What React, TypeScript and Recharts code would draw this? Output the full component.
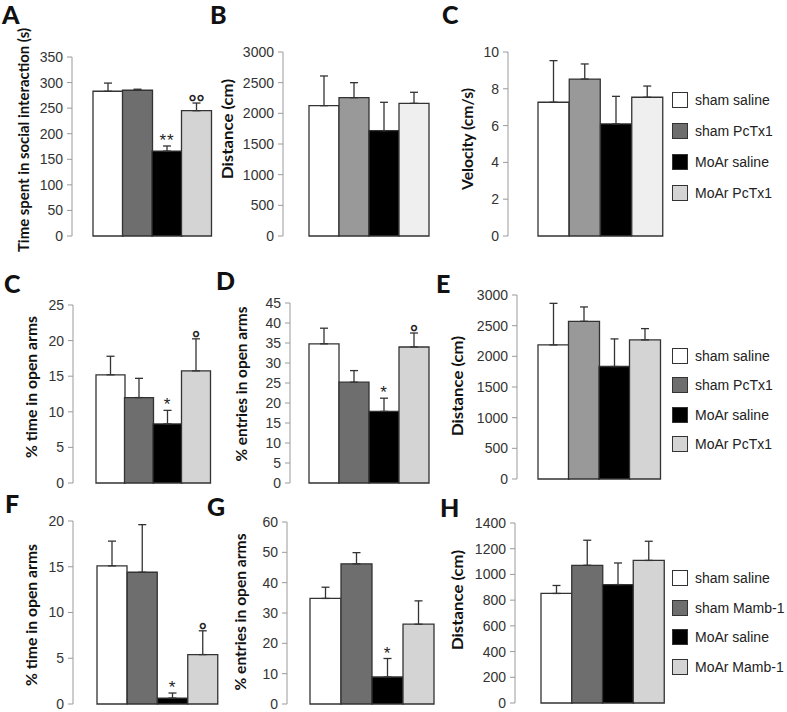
import React from 'react';
import { BarChart, Bar, XAxis, YAxis, ErrorBar, Cell, LabelList, Legend } from 'recharts';

const PCTX_GROUPS = ['sham saline', 'sham PcTx1', 'MoAr saline', 'MoAr PcTx1'];
const MAMB_GROUPS = ['sham saline', 'sham Mamb-1', 'MoAr saline', 'MoAr Mamb-1'];

// A: social interaction
const socialMeans = [283, 285, 166, 245];
const socialErrs = [16, 2, 10, 15];
const socialMarks = ['', '', '**', '°°'];
const socialTicks = [0, 50, 100, 150, 200, 250, 300, 350];

// B: distance during social test
const socialDistMeans = [2125, 2255, 1717, 2163];
const socialDistErrs = [484, 245, 463, 180];
const distTicks = [0, 500, 1000, 1500, 2000, 2500, 3000];

// C: velocity
const velocityMeans = [7.27, 8.53, 6.09, 7.54];
const velocityErrs = [2.26, 0.82, 1.5, 0.61];
const velocityTicks = [0, 2, 4, 6, 8, 10];

// C (second row): EPM time, PcTx1
const epmTimeMeans = [15.2, 12.0, 8.3, 15.75];
const epmTimeErrs = [2.6, 2.7, 1.9, 4.5];
const epmTimeMarks = ['', '', '*', '°'];
const epmTimeTicks = [0, 5, 10, 15, 20, 25];

// D: EPM entries, PcTx1
const epmEntryMeans = [34.8, 25.2, 17.9, 34.0];
const epmEntryErrs = [3.9, 2.9, 3.3, 3.5];
const epmEntryMarks = ['', '', '*', '°'];
const epmEntryTicks = [0, 5, 10, 15, 20, 25, 30, 35, 40, 45];

// E: EPM distance, PcTx1
const epmDistMeans = [2186, 2571, 1834, 2268];
const epmDistErrs = [678, 234, 450, 184];

// F: EPM time, Mamb-1
const mambTimeMeans = [15.1, 14.4, 0.65, 5.4];
const mambTimeErrs = [2.7, 5.2, 0.55, 2.6];
const mambTimeMarks = ['', '', '*', '°'];
const mambTimeTicks = [0, 5, 10, 15, 20];

// G: EPM entries, Mamb-1
const mambEntryMeans = [34.8, 46.2, 8.9, 26.3];
const mambEntryErrs = [3.7, 3.7, 6.1, 7.7];
const mambEntryMarks = ['', '', '*', ''];
const mambEntryTicks = [0, 10, 20, 30, 40, 50, 60];

// H: EPM distance, Mamb-1
const mambDistMeans = [852, 1071, 921, 1109];
const mambDistErrs = [62, 195, 168, 149];
const mambDistTicks = [0, 200, 400, 600, 800, 1000, 1200, 1400];

const PAL_DARK = ['#ffffff', '#6e6e6e', '#000000', '#d4d4d4'];
const PAL_MID = ['#ffffff', '#999999', '#000000', '#efefef'];
const PAL_E = ['#ffffff', '#999999', '#000000', '#d4d4d4'];
const LEGEND_COLORS = ['#ffffff', '#6e6e6e', '#000000', '#d4d4d4'];

const TICK_FONT = '"Liberation Sans", Arial, sans-serif';
const LABEL_FONT = 'Lato, "Open Sans", sans-serif';

type PanelConfig = {
  letter: string;
  label: string;
  labelLen: number;
  groups: string[];
  means: number[];
  errs: number[];
  marks?: string[];
  colors: string[];
  ticks: number[];
  axisX: number;
  barsStart: number;
  barsEnd: number;
  yTop: number;
  yBottom: number;
  labelX: number;
  labelY: number;
  letterX: number;
  letterY: number;
  legendTop?: number;
  legendStep?: number;
};

const PANELS: PanelConfig[] = [
  {
    letter: 'A', label: 'Time spent in social interaction (s)', labelLen: 224, groups: PCTX_GROUPS,
    means: socialMeans, errs: socialErrs, marks: socialMarks, colors: PAL_DARK, ticks: socialTicks,
    axisX: 72, barsStart: 93, barsEnd: 211, yTop: 57, yBottom: 236,
    labelX: 23, labelY: 140, letterX: 2, letterY: 6,
  },
  {
    letter: 'B', label: 'Distance (cm)', labelLen: 100, groups: PCTX_GROUPS,
    means: socialDistMeans, errs: socialDistErrs, colors: PAL_MID, ticks: distTicks,
    axisX: 283, barsStart: 309, barsEnd: 429, yTop: 52, yBottom: 236,
    labelX: 227, labelY: 129, letterX: 210, letterY: 6,
  },
  {
    letter: 'C', label: 'Velocity (cm/s)', labelLen: 102, groups: PCTX_GROUPS,
    means: velocityMeans, errs: velocityErrs, colors: PAL_MID, ticks: velocityTicks,
    axisX: 508, barsStart: 538, barsEnd: 663, yTop: 52, yBottom: 236,
    labelX: 467, labelY: 139, letterX: 442, letterY: 6,
    legendTop: 100, legendStep: 31,
  },
  {
    letter: 'C', label: '% time in open arms', labelLen: 142, groups: PCTX_GROUPS,
    means: epmTimeMeans, errs: epmTimeErrs, marks: epmTimeMarks, colors: PAL_DARK, ticks: epmTimeTicks,
    axisX: 73, barsStart: 96, barsEnd: 210, yTop: 305, yBottom: 483,
    labelX: 31, labelY: 387, letterX: 4, letterY: 277,
  },
  {
    letter: 'D', label: '% entries in open arms', labelLen: 155, groups: PCTX_GROUPS,
    means: epmEntryMeans, errs: epmEntryErrs, marks: epmEntryMarks, colors: PAL_DARK, ticks: epmEntryTicks,
    axisX: 290, barsStart: 309, barsEnd: 429, yTop: 303, yBottom: 483,
    labelX: 241, labelY: 384, letterX: 216, letterY: 274,
  },
  {
    letter: 'E', label: 'Distance (cm)', labelLen: 100, groups: PCTX_GROUPS,
    means: epmDistMeans, errs: epmDistErrs, colors: PAL_E, ticks: distTicks,
    axisX: 517, barsStart: 538, barsEnd: 660, yTop: 295, yBottom: 479,
    labelX: 457, labelY: 386, letterX: 436, letterY: 277,
    legendTop: 356, legendStep: 29.3,
  },
  {
    letter: 'F', label: '% time in open arms', labelLen: 142, groups: MAMB_GROUPS,
    means: mambTimeMeans, errs: mambTimeErrs, marks: mambTimeMarks, colors: PAL_DARK, ticks: mambTimeTicks,
    axisX: 73, barsStart: 97, barsEnd: 218, yTop: 521, yBottom: 704,
    labelX: 31, labelY: 615, letterX: 5, letterY: 497,
  },
  {
    letter: 'G', label: '% entries in open arms', labelLen: 157, groups: MAMB_GROUPS,
    means: mambEntryMeans, errs: mambEntryErrs, marks: mambEntryMarks, colors: PAL_DARK, ticks: mambEntryTicks,
    axisX: 287, barsStart: 310, barsEnd: 434, yTop: 522, yBottom: 704,
    labelX: 240, labelY: 612, letterX: 207, letterY: 500,
  },
  {
    letter: 'H', label: 'Distance (cm)', labelLen: 100, groups: MAMB_GROUPS,
    means: mambDistMeans, errs: mambDistErrs, colors: PAL_DARK, ticks: mambDistTicks,
    axisX: 515, barsStart: 541, barsEnd: 664, yTop: 523, yBottom: 703,
    labelX: 457, labelY: 600, letterX: 440, letterY: 501,
    legendTop: 578, legendStep: 29.6,
  },
];

const renderMark = (props: any) => {
  const row = props.value;
  if (!row || !row.mark) return null;
  const vb = props.viewBox || props;
  const { x, y, width, height } = vb;
  const errPx = row.mean ? (row.err[1] * height) / row.mean : 0;
  const isCircle = row.mark.includes('°');
  return (
    <text
      x={x + width / 2}
      y={y - errPx - (isCircle ? -6 : 0)}
      textAnchor="middle"
      fontFamily={TICK_FONT}
      fontSize={isCircle ? 20 : 17}
      fontWeight={isCircle ? 'bold' : 'normal'}
      fill="#222"
      letterSpacing={isCircle ? 0 : 1}
    >
      {row.mark}
    </text>
  );
};

const TOP_PAD = 40;

const Panel = ({ p }: { p: PanelConfig }) => {
  const L = p.axisX - 72;
  const T = p.yTop - TOP_PAD;
  const bottomPad = Math.min(24, 712 - p.yBottom);
  const plotRight = p.barsEnd - L;
  const width = p.legendTop ? 787 - L : plotRight + 6;
  const height = p.yBottom - p.yTop + TOP_PAD + bottomPad;
  const max = p.ticks[p.ticks.length - 1];
  const data = p.groups.map((g, i) => ({
    group: g,
    mean: p.means[i],
    err: [0, p.errs[i]],
    mark: p.marks ? p.marks[i] : '',
  }));
  const lx = p.labelX - L;
  const ly = p.labelY - T;
  const step = p.legendStep || 30;

  return (
    <div style={{ position: 'absolute', left: L, top: T }}>
      <BarChart
        width={width}
        height={height}
        data={data}
        margin={{ top: TOP_PAD, bottom: bottomPad, left: 12, right: width - plotRight }}
        barCategoryGap={0}
        barGap={0}
      >
        <XAxis dataKey="group" hide padding={{ left: p.barsStart - p.axisX, right: 0 }} />
        <YAxis
          width={60}
          domain={[0, max]}
          ticks={p.ticks}
          interval={0}
          tickSize={5}
          tickMargin={4}
          stroke="#9a9a9a"
          tick={{ fill: '#333', fontSize: 14, fontFamily: TICK_FONT }}
          label={{
            content: () => (
              <text
                x={lx}
                y={ly}
                transform={`rotate(-90 ${lx} ${ly})`}
                textAnchor="middle"
                dominantBaseline="central"
                fontFamily={LABEL_FONT}
                fontWeight="bold"
                fontSize={15}
                textLength={p.labelLen}
                lengthAdjust="spacingAndGlyphs"
                fill="#111"
              >
                {p.label}
              </text>
            ),
          }}
        />
        {p.legendTop ? (
          <Legend
            layout="vertical"
            align="center"
            verticalAlign="middle"
            wrapperStyle={{ left: 672 - L, top: p.legendTop - step / 2 - T }}
            content={() => (
              <div style={{ fontFamily: TICK_FONT, fontSize: 14, color: '#222', whiteSpace: 'nowrap' }}>
                {p.groups.map((g, i) => (
                  <div key={g} style={{ display: 'flex', alignItems: 'center', height: step }}>
                    <span
                      style={{
                        display: 'inline-block',
                        flex: 'none',
                        width: 14,
                        height: 14,
                        background: LEGEND_COLORS[i],
                        border: '1.5px solid #333',
                        marginRight: 7,
                      }}
                    />
                    {g}
                  </div>
                ))}
              </div>
            )}
          />
        ) : null}
        <Bar dataKey="mean" stroke="#333" strokeWidth={1.3} isAnimationActive={false}>
          {data.map((d, i) => (
            <Cell key={d.group} fill={p.colors[i]} />
          ))}
          <ErrorBar dataKey="err" width={4} stroke="#333" strokeWidth={1.3} direction="y" />
          <LabelList dataKey={(d: any) => d} content={renderMark} />
        </Bar>
      </BarChart>
    </div>
  );
};

export default function App() {
  return (
    <div style={{ position: 'absolute', left: 0, top: 0, width: 787, height: 712, background: '#fff' }}>
      {PANELS.map((p, i) => (
        <Panel key={i} p={p} />
      ))}
      {PANELS.map((p, i) => (
        <div
          key={`l${i}`}
          style={{
            position: 'absolute',
            left: p.letterX,
            top: Math.max(2, p.letterY - 6),
            fontFamily: LABEL_FONT,
            fontWeight: 900,
            fontSize: 25,
            lineHeight: 1,
            color: '#111',
          }}
        >
          {p.letter}
        </div>
      ))}
    </div>
  );
}
